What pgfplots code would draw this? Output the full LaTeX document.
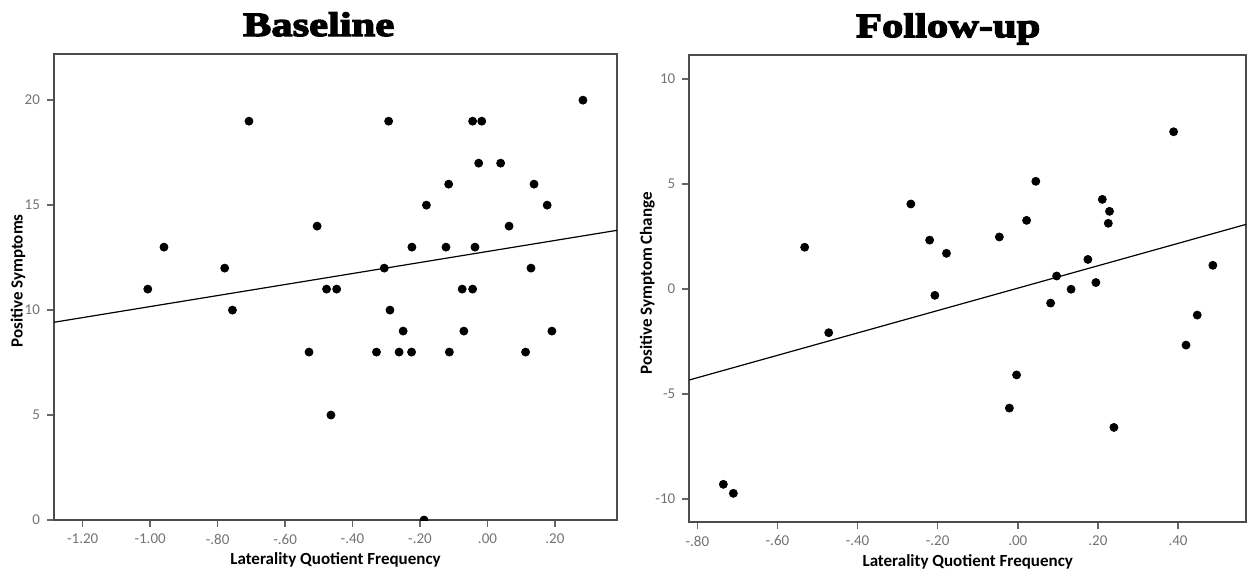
\documentclass[border=0pt]{standalone}
\usepackage{fontspec}
\setmainfont{Carlito}
\newfontfamily\titlefont[FakeBold=4,FakeStretch=1.25]{Liberation Serif}
\usepackage{pgfplots}
\pgfplotsset{compat=1.18}

\pgfplotsset{
  spss/.style={
    scale only axis,
    axis line style={black!70, line width=0.9pt},
    tick style={black!60, line width=0.8pt},
    major tick length=3.5pt,
    tick align=outside,
    xtick pos=bottom, ytick pos=left,
    tick label style={font=\fontsize{7.5}{9}\selectfont, text=black!55},
    /pgf/number format/assume math mode=true,
    label style={font=\bfseries\fontsize{8.5}{10}\selectfont},
    title style={font=\titlefont\bfseries\fontsize{17}{19}\selectfont, anchor=base},
    clip marker paths=true,
  },
  dots/.style={only marks, mark=*, mark size=2pt, black},
  fit/.style={black, line width=0.6pt, no marks},
}

\begin{document}
\begin{tikzpicture}
\useasboundingbox (0,0) rectangle (625.5pt,287pt);

% Baseline
\begin{axis}[spss,
  at={(27pt,27pt)}, anchor=south west,
  width=281.5pt, height=233pt,
  xmin=-1.285, xmax=0.384, ymin=0, ymax=22.2,
  xtick={-1.2,-1.0,-0.8,-0.6,-0.4,-0.2,0,0.2},
  xticklabels={-1.20,-1.00,-.80,-.60,-.40,-.20,.00,.20},
  ytick={0,5,10,15,20},
  xlabel={Laterality Quotient Frequency},
  ylabel={Positive Symptoms},
  xlabel style={at={(axis description cs:0.5,-0.086)}, anchor=center},
  ylabel style={at={(axis description cs:-0.064,0.513)}, anchor=center},
  title={Baseline},
  title style={at={(axis description cs:0.47,1)}, yshift=3pt},
]
\addplot[dots] coordinates {
  (-1.007,11) (-0.959,13) (-0.779,12) (-0.707,19) (-0.756,10) (-0.505,14)
  (-0.529,8) (0.283,20) (-0.293,19) (-0.044,19) (-0.017,19) (-0.026,17)
  (0.039,17) (-0.115,16) (0.138,16) (-0.181,15) (0.177,15) (0.064,14)
  (-0.224,13) (-0.123,13) (-0.037,13) (-0.306,12) (0.129,12) (-0.477,11)
  (-0.447,11) (-0.075,11) (-0.044,11) (-0.289,10) (-0.250,9) (-0.070,9)
  (0.191,9) (-0.329,8) (-0.262,8) (-0.225,8) (-0.113,8) (0.113,8)
  (-0.464,5) (-0.188,0)
};
\addplot[fit] coordinates {(-1.285,9.42) (0.384,13.80)};
\end{axis}

% Follow-up
\begin{axis}[spss,
  at={(344.65pt,26.15pt)}, anchor=south west,
  width=278.4pt, height=233.3pt,
  xmin=-0.82, xmax=0.57, ymin=-11.09, ymax=11.13,
  xtick={-0.8,-0.6,-0.4,-0.2,0,0.2,0.4},
  xticklabels={-.80,-.60,-.40,-.20,.00,.20,.40},
  ytick={-10,-5,0,5,10},
  xlabel={Laterality Quotient Frequency},
  ylabel={Positive Symptom Change},
  xlabel style={at={(axis description cs:0.5,-0.086)}, anchor=center},
  ylabel style={at={(axis description cs:-0.0755,0.511)}, anchor=center},
  title={Follow-up},
  title style={at={(axis description cs:0.465,1)}, yshift=3pt},
]
\addplot[dots] coordinates {
  (-0.735,-9.31) (-0.710,-9.74) (-0.532,1.98) (-0.472,-2.09) (-0.267,4.04)
  (-0.220,2.32) (-0.207,-0.31) (-0.178,1.69) (-0.046,2.47) (-0.021,-5.68)
  (-0.003,-4.10) (0.022,3.26) (0.045,5.12) (0.082,-0.68) (0.097,0.61)
  (0.133,-0.02) (0.175,1.40) (0.195,0.30) (0.211,4.26) (0.226,3.12)
  (0.229,3.69) (0.240,-6.60) (0.389,7.48) (0.420,-2.68) (0.448,-1.25)
  (0.487,1.12)
};
\addplot[fit] coordinates {(-0.82,-4.34) (0.57,3.07)};
\end{axis}
\end{tikzpicture}
\end{document}
